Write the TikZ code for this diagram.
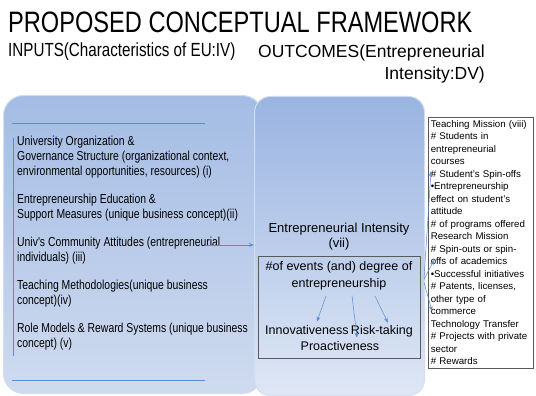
\documentclass[tikz,border=0pt]{standalone}
\usepackage{fontspec}
\setmainfont{Liberation Sans}
\newfontfamily\condfont[FakeStretch=0.8]{Liberation Sans}
\usetikzlibrary{arrows.meta, positioning}
\definecolor{ptop}{HTML}{9AB4E1}
\definecolor{pbot}{HTML}{DFE7F5}
\definecolor{ltop}{HTML}{A4BCE4}
\definecolor{lbot}{HTML}{CFDBEF}
\definecolor{cline}{HTML}{5B8BD0}
\definecolor{cgrey}{HTML}{5A5A5A}
\tikzset{
  panel/.style={rounded corners=#1, draw=white!55!ptop, line width=1pt, anchor=north west},
  panel/.default=16pt,
  rule/.style={draw=cline, line width=0.9pt},
  arr/.style={-{Stealth[length=1.8mm, width=1.3mm]}, draw=cline, line width=0.5pt},
  txt/.style={inner sep=0pt, font=\fontsize{12.5}{15}\selectfont},
  innerbox/.style={draw=cgrey, line width=0.9pt, anchor=north west},
  outbox/.style={draw=cgrey, fill=white, line width=0.6pt, align=left, anchor=north west,
    inner xsep=2.5pt, inner ysep=3pt, text width=100pt, font=\fontsize{9.7}{12.5}\selectfont,
    execute at begin node={\hyphenpenalty=10000\relax}},
}

\begin{document}
\begin{tikzpicture}[x=1pt, y=-1pt]
  \useasboundingbox (0,0) rectangle (536,396);
  % headings
  \node[anchor=base west, inner sep=0pt, font=\condfont\fontsize{29.5}{34}\selectfont] (title) at (8,33)
    {PROPOSED CONCEPTUAL FRAMEWORK};
  \node[anchor=base west, inner sep=0pt, font=\condfont\fontsize{19}{22}\selectfont] (inputs) at (8,57)
    {INPUTS(Characteristics of EU:IV)};
  \node[anchor=north east, align=right, inner sep=0pt, font=\fontsize{17.5}{22}\selectfont] (outcomes) at (485,44.5)
    {OUTCOMES(Entrepreneurial\\Intensity:DV)};

  % the two process panels
  \node[panel=20pt, top color=ltop, bottom color=lbot, minimum width=259pt, minimum height=298pt] (inpanel) at (3,95) {};
  \node[panel, top color=ptop, bottom color=pbot, minimum width=170pt, minimum height=299pt] (midpanel) at (254,96) {};

  % input list with its rules
  \draw[rule] (12,123) -- (205,123);
  \draw[rule] (12,380) -- (205,380);
  \draw[rule, line width=0.7pt] (13,138) -- (13,356);
  \node[txt, anchor=north west, align=left, font=\condfont\fontsize{13}{15}\selectfont] (inlist) at (17,135.5)
    {University  Organization \&\\
     Governance Structure (organizational context,\\
     environmental opportunities, resources) (i)\\[13pt]
     Entrepreneurship Education \&\\
     Support Measures (unique business concept)(ii)\\[13pt]
     Univ's Community Attitudes (entrepreneurial\\
     individuals) (iii)\\[13pt]
     Teaching Methodologies(unique business\\
     concept)(iv)\\[13pt]
     Role Models \& Reward Systems (unique business\\
     concept) (v)};
  \coordinate (inlink) at (205,245);
  \draw[arr] (inlink) -- (inlink -| midpanel.west);

  % entrepreneurial intensity
  \node[txt, anchor=north, align=center, font=\fontsize{13}{15}\selectfont] (intensity) at (339,222.5)
    {Entrepreneurial Intensity\\(vii)};
  \node[innerbox, minimum width=162pt, minimum height=102pt] (eventsbox) at (258,256) {};
  \node[txt, anchor=north, align=center, font=\fontsize{12.5}{17}\selectfont] (events) at (339,261)
    {\#of events (and) degree of\\entrepreneurship};
  \node[txt, anchor=base west] (innov) at (265,334) {Innovativeness};
  \node[txt, anchor=base east] (risk) at (413,334) {Risk-taking};
  \node[txt, anchor=base] (proact) at (340,350) {Proactiveness};
  \draw[arr] ([xshift=-13pt,yshift=-6pt]events.south) -- ([xshift=10pt,yshift=3pt]innov.north);
  \draw[arr] ([xshift=13pt,yshift=-5.5pt]events.south) -- ([xshift=17pt,yshift=3pt]proact.north);
  \draw[arr] ([xshift=36pt,yshift=-6pt]events.south) -- ([xshift=6pt,yshift=2pt]risk.north);

  % outcome measures
  \node[outbox] (outbox) at (428,117)
    {Teaching Mission (viii)\\
     \# Students in\\
     entrepreneurial\\
     courses\\
     \# Student's Spin-offs\\
     •Entrepreneurship\\
     effect on student's\\
     attitude\\
     \# of programs offered\\
     Research Mission\\
     \# Spin-outs or spin-\\
     offs of academics\\
     •Successful initiatives\\
     \# Patents, licenses,\\
     other type of\\
     commerce\\
     Technology Transfer\\
     \# Projects with private\\
     sector\\
     \# Rewards};
  \draw[arr] ([xshift=-1pt,yshift=-32.5pt]midpanel.east) -- ([xshift=3pt,yshift=71.5pt]outbox.west);
  \draw[arr] ([xshift=-1pt,yshift=-33.5pt]midpanel.east) -- ([xshift=6pt,yshift=-17.5pt]outbox.west);
  \draw[arr] ([xshift=-1pt,yshift=-36.5pt]midpanel.east) -- ([xshift=4pt,yshift=-68.5pt]outbox.west);
\end{tikzpicture}
\end{document}
